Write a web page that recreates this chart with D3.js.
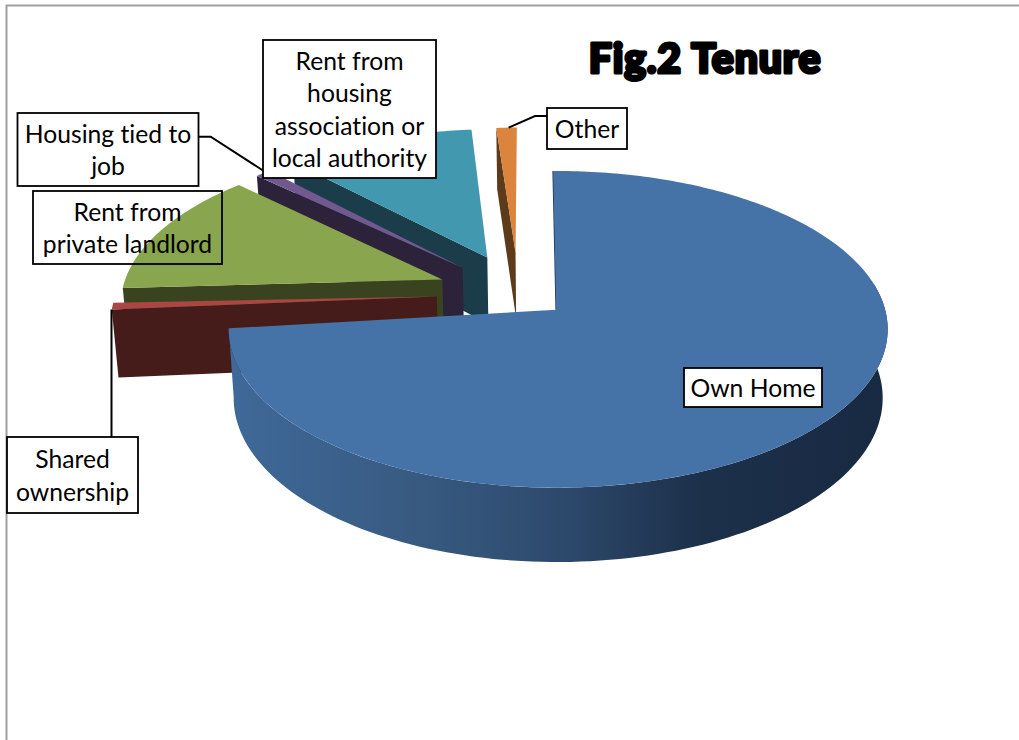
<!DOCTYPE html>
<html><head><meta charset="utf-8">
<script src="https://cdn.jsdelivr.net/npm/d3@7"></script>
<style>html,body{margin:0;padding:0;background:#fff}svg{display:block}text{font-variant-ligatures:none}</style>
</head><body><div id="c"></div>
<script>
// ---- data (share of households, %) ----
const categories = ["Own Home","Shared ownership","Rent from private landlord","Housing tied to job","Rent from housing association or local authority","Other"];
const values = [73.3, 0.7, 13.0, 0.9, 10.9, 1.2];
// ---- appearance ----
const topColors  = ["#4572a7","#aa4643","#89a54e","#71588f","#4198af","#db843d"];
const sideColors = ["#2a4565","#451c1a","#3a431f","#2c2239","#1a3d49","#5c3a1a"];
const explode    = [0.13, 0.268, 0.285, 0.285, 0.29, 0.30];
const spinDeg    = [0, 1.9, 1.0, 0.36, 0.18, 0];      // perspective correction per slice
const shiftU     = [0, -0.007, 0.008, 0.004, -0.003, -0.019];
const shiftV     = [0, -0.0256, -0.019, 0.006, 0, 0];
const rimScale   = [1, 1, 1, 1, 1, 0.98];
const drawOrder  = [5,4,3,2,1,0];

const W=1019,H=740;
const svg=d3.select("#c").append("svg").attr("width",W).attr("height",H);
svg.append("path").attr("d",`M${W},5.5H6.5V${H}`).attr("fill","none").attr("stroke","#a0a0a0").attr("stroke-width",2);

// projection: tilted disc with perspective
const tilt=0.123, rot=-0.6*Math.PI/180;
const xS=d3.scaleLinear().domain([-1,0,1]).range([556-325,556,556+329]);
const yS=d3.scaleLinear().domain([-1,1]).range([310-156,310+156]);
const depthShrink=0.985, depthBase=68, depthSlope=0.036;
const cxS=xS(0), cyS=yS(0);
const centre=[-0.097,-0.087];
function upper(p){const w=1-tilt*p[1];return [xS(p[0]/w),yS(p[1]/w)];}
function lower(p){const s=upper(p);return [cxS+(s[0]-cxS)*depthShrink, s[1]+depthBase+depthSlope*(s[1]-cyS)];}
const dir=a=>[Math.sin(a),-Math.cos(a)];
const line=d3.line();
const pie=d3.pie().sort(null).startAngle(rot).endAngle(rot+2*Math.PI);
const arcs=pie(values);

function geom(i){
  const a=arcs[i], mid=(a.startAngle+a.endAngle)/2, d=dir(mid), e=explode[i];
  const spin=spinDeg[i]*Math.PI/180, k=rimScale[i];
  const apex=[centre[0]+d[0]*e+shiftU[i], centre[1]+d[1]*e+shiftV[i]];
  const at=t=>{const v=dir(t+spin);return [apex[0]+k*v[0],apex[1]+k*v[1]];};
  const n=Math.max(3,Math.ceil((a.endAngle-a.startAngle)*60));
  const rim=d3.range(n+1).map(j=>at(a.startAngle+(a.endAngle-a.startAngle)*j/n));
  return {a,apex,at,rim};
}
const defs=svg.append("defs");
const grad=defs.append("linearGradient").attr("id","mainSide").attr("gradientUnits","userSpaceOnUse")
  .attr("x1",xS(-1)).attr("x2",xS(1)).attr("y1",0).attr("y2",0);
[[0,"#3f6999"],[0.3,"#37597f"],[0.5,"#2d4a6d"],[0.72,"#1c3049"],[1,"#182a42"]].forEach(s=>grad.append("stop").attr("offset",s[0]).attr("stop-color",s[1]));

drawOrder.forEach(i=>{
  const g=geom(i), G=svg.append("g");
  if(i===0){
    const s0=80*Math.PI/180, s1=g.a.endAngle, n=120;
    const r=d3.range(n+1).map(j=>g.at(s0+(s1-s0)*j/n));
    G.append("path").attr("d",line(r.map(upper).concat(r.slice().reverse().map(lower)))+"Z").attr("fill","url(#mainSide)");
    G.append("path").attr("d",line([upper(g.apex),upper(g.rim[0])])).attr("stroke","#1e3452").attr("stroke-width",1.5);
  } else {
    const o=g.rim[0];
    G.append("path").attr("d",line([upper(o),upper(g.apex),lower(g.apex),lower(o)])+"Z").attr("fill",sideColors[i]);
  }
  G.append("path").attr("d",line([g.apex,...g.rim].map(upper))+"Z").attr("fill",topColors[i]);
});

// ---- labels ----
const labels=[
 {i:0,lines:["Own Home"],box:[684,368,138,39]},
 {i:1,lines:["Shared","ownership"],box:[7,437,131,76]},
 {i:2,lines:["Rent from","private landlord"],box:[33,191,189,73],nofill:true},
 {i:3,lines:["Housing tied to","job"],box:[17.5,113,181,73]},
 {i:4,lines:["Rent from","housing","association or","local authority"],box:[263,40,173,138]},
 {i:5,lines:["Other"],box:[547,108,80,41]}
];
const lh=32.3;
// leaders
const rimStart=i=>upper(geom(i).rim[0]);
const rimMid=i=>{const g=geom(i);return upper(g.rim[Math.floor(g.rim.length/2)]);};
const leaders=[
 [[111.5,437],[111.5,rimStart(1)[1]]],
 [[198.6,136.7],[210.7,136.7],[263,170.5]],
 [[547,116],[535,116],rimMid(5)]
];
leaders.forEach(p=>svg.append("path").attr("d",line(p)).attr("fill","none").attr("stroke","#000").attr("stroke-width",2));
labels.forEach(l=>{
  const b=l.box;
  svg.append("rect").attr("x",b[0]).attr("y",b[1]).attr("width",b[2]).attr("height",b[3])
    .attr("fill",l.nofill?"none":"#fff").attr("stroke","#000").attr("stroke-width",1.8);
  const cx=b[0]+b[2]/2, y0=b[1]+b[3]/2-(l.lines.length-1)*lh/2+9.5;
  l.lines.forEach((t,k)=>svg.append("text").attr("x",cx).attr("y",y0+k*lh).attr("text-anchor","middle")
    .attr("font-family","Lato").attr("font-size",24.7).attr("fill","#000").text(t));
});
svg.append("text").attr("x",705).attr("y",73).attr("text-anchor","middle")
  .attr("font-family","Lato").attr("font-weight",900).attr("font-size",41).attr("letter-spacing",0.8)
  .attr("stroke","#000").attr("stroke-width",3.2).attr("stroke-linejoin","round").attr("fill","#000").text("Fig.2 Tenure");
</script></body></html>
